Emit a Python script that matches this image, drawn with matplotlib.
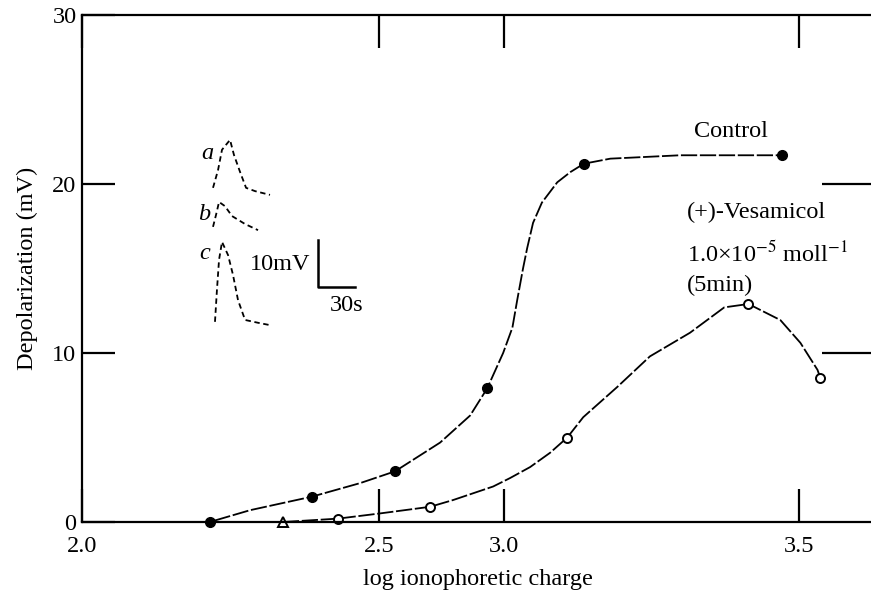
import numpy as np
import matplotlib
matplotlib.use("Agg")
import matplotlib.pyplot as plt
from matplotlib.scale import FuncScale

########################################################################
# data
########################################################################
# measured points
control_x = [2.215, 2.387, 2.564, 2.932, 3.135, 3.471]
control_y = [0.0, 1.5, 3.0, 7.9, 21.2, 21.7]

vesamicol_x = [2.338, 2.431, 2.704, 3.107, 3.414, 3.536]
vesamicol_y = [0.0, 0.2, 0.9, 5.0, 12.9, 8.5]

# hand drawn fitted curves (traced)
control_curve_x = [2.0, 2.10, 2.215, 2.283, 2.387, 2.468, 2.564, 2.744, 2.864, 2.932,
                   2.996, 3.014, 3.022, 3.032, 3.039, 3.049, 3.064, 3.090, 3.112,
                   3.135, 3.180, 3.298, 3.471]
control_curve_y = [0.0, 0.0, 0.0, 0.7, 1.5, 2.3, 3.0, 4.7, 6.3, 7.9,
                   10.0, 11.5, 13.1, 15.0, 16.2, 17.7, 18.9, 20.1, 20.7,
                   21.2, 21.5, 21.7, 21.7]

vesamicol_curve_x = [2.338, 2.431, 2.50, 2.704, 2.796, 2.876, 2.956, 3.010, 3.044,
                     3.078, 3.107, 3.134, 3.192, 3.247, 3.315, 3.373, 3.414, 3.468,
                     3.502, 3.531, 3.536]
vesamicol_curve_y = [0.0, 0.2, 0.5, 0.9, 1.3, 1.7, 2.1, 2.6, 3.25,
                     4.1, 5.0, 6.2, 8.0, 9.8, 11.2, 12.7, 12.9, 11.95,
                     10.6, 9.0, 8.5]

# inset traces a, b, c (time in s, potential in mV)
trace_a_t = [14.6, 18.7, 21.9, 28.4, 31.6, 36.5, 41.4, 48.7, 60.8]
trace_a_v = [31.3, 35.1, 39.4, 41.5, 38.3, 34.7, 31.3, 30.6, 29.8]
trace_b_t = [14.6, 17.0, 19.5, 24.3, 30.0, 40.6, 51.1]
trace_b_v = [23.0, 25.5, 28.3, 27.4, 25.3, 23.6, 22.3]
trace_c_t = [16.2, 17.8, 19.5, 21.9, 26.8, 30.8, 34.9, 40.6, 51.1, 60.8]
trace_c_v = [2.8, 9.6, 16.0, 19.8, 17.0, 12.8, 7.4, 3.2, 2.6, 2.1]

x_ticks = [2.0, 2.5, 3.0, 3.5]
x_tick_labels = ["2.0", "2.5", "3.0", "3.5"]
y_ticks = [0, 10, 20, 30]

########################################################################
# uneven x axis of the original drawing (tick value -> relative position)
########################################################################
scale_vals = [1.9, 2.0, 2.5, 3.0, 3.5, 3.7]
scale_pos = [22.6, 82.0, 379.0, 504.0, 799.0, 917.0]


def fwd(x):
    return np.interp(x, scale_vals, scale_pos)


def inv(p):
    return np.interp(p, scale_pos, scale_vals)


plt.rcParams["font.family"] = ["Liberation Serif", "DejaVu Serif"]
plt.rcParams["mathtext.fontset"] = "stix"
FS = 17.5

fig = plt.figure(figsize=(8.71, 5.92), dpi=100)
ax = fig.add_axes([82 / 871, 70 / 592, 791 / 871, 507 / 592])
ax.set_xscale(FuncScale(ax, (fwd, inv)))
ax.set_xlim(2.0, 3.625)
ax.set_ylim(0, 30)

ax.plot(control_curve_x, control_curve_y, color="black", lw=1.3, dashes=(9, 1.5))
ax.plot(vesamicol_curve_x, vesamicol_curve_y, color="black", lw=1.3, dashes=(9, 1.5))
ax.plot(control_x, control_y, "o", color="black", ms=7, clip_on=False)
ax.plot(vesamicol_x[1:], vesamicol_y[1:], "o", mfc="white", mec="black", mew=1.4,
        ms=6.5, clip_on=False)
ax.plot(vesamicol_x[:1], vesamicol_y[:1], "^", mfc="white", mec="black", mew=1.4,
        ms=7, clip_on=False)

ax.spines["right"].set_visible(False)
for s in ["left", "top", "bottom"]:
    ax.spines[s].set_linewidth(1.6)

ax.set_xticks(x_ticks)
ax.set_xticklabels(x_tick_labels)
ax.set_yticks(y_ticks)
ax.tick_params(axis="both", direction="in", length=24, width=1.6, labelsize=FS,
               top=True, right=False)
ax.tick_params(axis="x", pad=10)
ax.tick_params(axis="y", pad=4)
ax.minorticks_off()

# longer inward ticks on the right side
sec = ax.secondary_yaxis("right")
sec.set_yticks([10, 20])
sec.tick_params(direction="in", length=37, width=1.6, labelright=False)
sec.spines["right"].set_visible(False)

ax.set_xlabel("log ionophoretic charge", fontsize=FS, labelpad=9)
ax.set_ylabel("Depolarization (mV)", fontsize=FS, labelpad=10)

ax.text(3.385, 23.1, "Control", fontsize=FS, ha="center", va="center")
ax.text(3.31, 18.3, "(+)-Vesamicol", fontsize=FS, ha="left", va="center")
ax.text(3.31, 15.9, r"1.0×10$^{-5}$ moll$^{-1}$", fontsize=FS, ha="left", va="center")
ax.text(3.31, 14.0, "(5min)", fontsize=FS, ha="left", va="center")

# inset: example responses and scale bar
ins = fig.add_axes([195 / 871, (592 - 335) / 592, 175 / 871, 205 / 592])
ins.set_xlim(0, 141.9)
ins.set_ylim(0, 43.6)
ins.axis("off")
for t, v in [(trace_a_t, trace_a_v), (trace_b_t, trace_b_v), (trace_c_t, trace_c_v)]:
    ins.plot(t, v, color="black", lw=1.3, dashes=(3, 2))
ins.text(9.7, 38.7, "a", fontsize=FS, style="italic", ha="center", va="center")
ins.text(7.3, 25.7, "b", fontsize=FS, style="italic", ha="center", va="center")
ins.text(8.1, 17.4, "c", fontsize=FS, style="italic", ha="center", va="center")
ins.plot([99.8, 99.8, 129.8], [20.2, 10.2, 10.2], color="black", lw=1.8)
ins.text(93.3, 14.9, "10mV", fontsize=FS, ha="right", va="center")
ins.text(123.3, 6.2, "30s", fontsize=FS, ha="center", va="center")

fig.savefig("out.png", dpi=100)
